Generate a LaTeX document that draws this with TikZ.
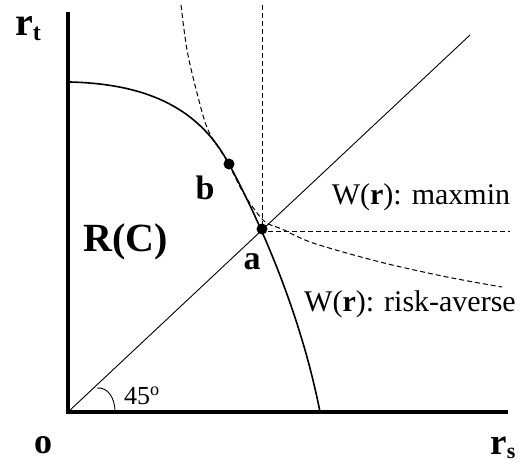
\documentclass[tikz,border=0pt]{standalone}
\usepackage{fontspec}
\setmainfont{Liberation Serif}
\begin{document}
\begin{tikzpicture}[x=1pt,y=-1pt,
  axis/.style={line width=3.5pt, line join=miter},
  thin line/.style={line width=0.9pt},
  frontier/.style={line width=1.6pt},
  guide/.style={line width=1pt, dash pattern=on 5pt off 3pt},
  dot/.style={circle, fill=black, inner sep=0pt, minimum size=11pt},
  lbl/.style={inner sep=0pt, font=\fontsize{30}{30}\selectfont},
  biglbl/.style={inner sep=0pt, font=\fontsize{36}{36}\selectfont\bfseries}]
\useasboundingbox (0,0) rectangle (524,463);
% axes
\coordinate (O) at (68,412);
\coordinate (Ytop) at (68,12);
\coordinate (Xend) at (508,412);
\coordinate (Dend) at (470,35);
\draw[axis] (Ytop) |- (Xend);
% 45 degree line
\draw[thin line] (O) -- (Dend);
\draw[thin line] (97,388) .. controls (108,387) and (115,398) .. (115,412);
% points
\coordinate (A) at (262,229);
\coordinate (B) at (229,164);
% frontier
\draw[frontier] (70,82) .. controls (150,84) and (200,110) .. (B)
  .. controls (258,218) and (300,310) .. (320,412);
% risk-averse indifference curve
\draw[guide] plot[smooth] coordinates {(181,5) (187,50) (197,93) (208,130) (227,161) (244,194) (264,221) (282,229) (313,243) (380,262) (447,277) (502,287)};
\node[dot] (a) at (A) {};
\node[dot] (b) at (B) {};
% maxmin
\coordinate (mtop) at (262,5);
\coordinate (mright) at (510,231);
\draw[guide] (mtop) -- (a.center) |- (mright);
% labels
\node[inner sep=0pt] (rt) at (28,29) {\bfseries\fontsize{40}{40}\selectfont r\raisebox{-0.12em}{\fontsize{24}{24}\selectfont t}};
\node[inner sep=0pt] (rs) at (503,448) {\bfseries\fontsize{37}{37}\selectfont r\raisebox{-0.1em}{\fontsize{22}{22}\selectfont s}};
\node[biglbl] (o) at (43,445) {o};
\node[inner sep=0pt, font=\fontsize{40}{40}\selectfont\bfseries] (rc) at (126,242) {R(C)};
\node[biglbl, font=\fontsize{34}{34}\selectfont\bfseries] (lb) at (205,188) {b};
\node[biglbl, font=\fontsize{34}{34}\selectfont\bfseries] (la) at (252,262) {a};
\node[lbl] (wmax) at (421,197) {W(\textbf{r}): maxmin};
\node[lbl] (wrisk) at (410,304) {W(\textbf{r}): risk-averse};
\node[inner sep=0pt, font=\fontsize{26}{26}\selectfont] (deg) at (142,396) {45\textsuperscript{o}};
\end{tikzpicture}
\end{document}
